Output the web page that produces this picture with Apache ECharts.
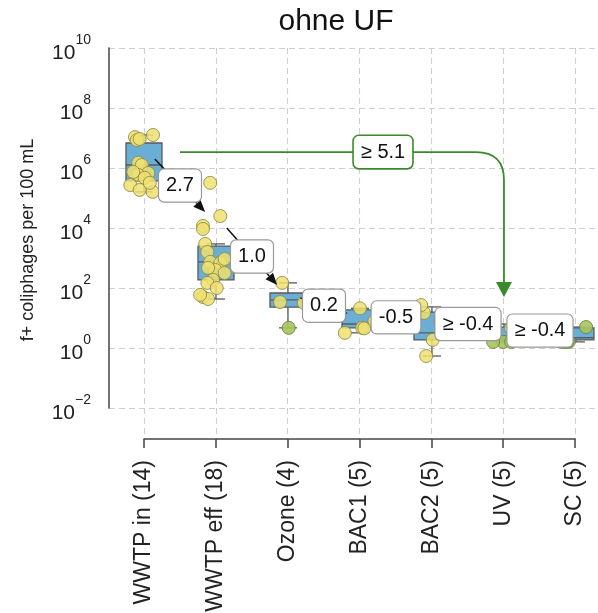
<!DOCTYPE html>
<html>
<head>
<meta charset="utf-8">
<title>ohne UF</title>
<script src="https://cdn.jsdelivr.net/npm/echarts@6/dist/echarts.min.js"></script>
<style>
  html, body { margin: 0; padding: 0; background: #fff; }
  #main { width: 598px; height: 613px; }
</style>
</head>
<body>
<div id="main"></div>
<script>
const FONT = "'Liberation Sans', Arial, sans-serif";

// treatment steps (sample count)
const categories = ['WWTP in (14)', 'WWTP eff (18)', 'Ozone (4)', 'BAC1 (5)', 'BAC2 (5)', 'UV (5)', 'SC (5)'];

// box stats per step: [min, q1, median, q3, max]
const boxStats = [
  [1.6e5, 3.7e5, 1.26e6, 6.8e6, 1.26e7],
  [43, 186, 740, 2500, 2950],
  [4.7, 23, 40, 68, 148],
  [3.2, 4.7, 6.3, 18.6, 21],
  [0.54, 1.86, 3.2, 15.8, 23.4],
  [1.6, 1.86, 2.5, 5, 6.3],
  [1.6, 1.86, 2.2, 4.7, 5.0]
];

// single samples: [jitter, value]
const ptsWwtpIn = [[-0.125, 1.07e7], [0.125, 1.26e7], [-0.1, 8.5e6], [-0.06, 9.3e6], [-0.08, 1.5e6],
  [-0.03, 1.26e6], [0.06, 6.8e5], [-0.08, 5.9e5], [0.01, 4.7e5], [-0.19, 2.7e5], [-0.06, 1.86e5],
  [0.12, 1.6e5], [0.08, 3.2e5], [-0.15, 7.4e5]];
const ptsWwtpEff = [[-0.08, 3.2e5], [0.06, 2.5e4], [-0.18, 1.17e4], [-0.18, 9.3e3], [-0.15, 2950],
  [-0.12, 1580], [-0.08, 740], [0.06, 680], [0.12, 930], [-0.01, 400], [0.12, 316], [-0.11, 470],
  [-0.04, 186], [-0.12, 148], [0.01, 100], [-0.18, 50], [-0.11, 43], [-0.22, 59]];
const ptsOzone = [[-0.08, 148], [-0.11, 34], [0.22, 32]];
const ptsBac1 = [[0.0, 21], [0.03, 4.7], [0.06, 4.5], [-0.21, 3.2], [0.2, 7.9]];
const ptsBac2 = [[-0.11, 14.8], [0.01, 1.86], [-0.08, 0.54], [-0.15, 27], [0.12, 7.9]];
const ptsUv = [[0.1, 4.5], [-0.15, 3.0]];
const ptsSc = [];
// samples at detection limit: [step, jitter, value]
const ptsLod = [[2, 0.01, 4.7], [5, -0.01, 1.6], [5, 0.1, 1.6], [5, -0.15, 1.6],
  [6, 0.14, 5.0], [6, -0.1, 1.6], [6, -0.15, 1.6], [6, -0.2, 1.6], [6, -0.12, 1.6]];

// log reductions between steps
const stepLabels = ['2.7', '1.0', '0.2', '-0.5', '≥ -0.4', '≥ -0.4'];
const stepFrom = [[0.15, 2.0e6], [1.15, 1.0e4], [2.17, 47], [3.16, 14], [4.16, 7.9], [5.16, 4.5]];
const stepTo = [[0.85, 3.4e4], [1.85, 126], [2.83, 14], [3.84, 7.9], [4.84, 5], [5.84, 3.2]];

// total reduction WWTP in -> UV
const totalLabel = '≥ 5.1';
const totalFrom = [0.5, 3.4e6];
const totalTo = [5.0, 50];
const totalLabelX = 3.32;

const stripGroups = [ptsWwtpIn, ptsWwtpEff, ptsOzone, ptsBac1, ptsBac2, ptsUv, ptsSc];
const yellowData = [];
stripGroups.forEach((g, i) => g.forEach(p => yellowData.push([i + p[0], p[1]])));
const lodData = ptsLod.map(p => [p[0] + p[1], p[2]]);
const boxData = boxStats.map((b, i) => [i].concat(b));
const stepData = stepFrom.map((f, i) => [f[0], f[1], stepTo[i][0], stepTo[i][1]]);

function renderBox(params, api) {
  const x = api.value(0);
  const yMin = api.coord([x, api.value(1)])[1];
  const yQ1 = api.coord([x, api.value(2)])[1];
  const med = api.coord([x, api.value(3)]);
  const yQ3 = api.coord([x, api.value(4)])[1];
  const yMax = api.coord([x, api.value(5)])[1];
  const cx = med[0];
  const hw = api.coord([x + 0.25, 1])[0] - cx;
  const st = { stroke: '#5a5a5a', lineWidth: 1.3 };
  return {
    type: 'group',
    children: [
      { type: 'line', shape: { x1: cx, y1: yQ3, x2: cx, y2: yMax }, style: st },
      { type: 'line', shape: { x1: cx, y1: yQ1, x2: cx, y2: yMin }, style: st },
      { type: 'line', shape: { x1: cx - hw / 2, y1: yMax, x2: cx + hw / 2, y2: yMax }, style: st },
      { type: 'line', shape: { x1: cx - hw / 2, y1: yMin, x2: cx + hw / 2, y2: yMin }, style: st },
      { type: 'rect', shape: { x: cx - hw, y: yQ3, width: 2 * hw, height: yQ1 - yQ3 },
        style: { fill: '#6aaed6', stroke: '#5a5a5a', lineWidth: 1.3 } },
      { type: 'line', shape: { x1: cx - hw, y1: med[1], x2: cx + hw, y2: med[1] }, style: st }
    ]
  };
}

function labelEl(text, x, y, border, bw) {
  return {
    type: 'text', x: x, y: y, z2: 20,
    style: {
      text: text, fill: '#111', fontSize: 20, fontFamily: FONT, lineHeight: 20,
      align: 'center', verticalAlign: 'middle',
      backgroundColor: '#fff', borderColor: border, borderWidth: bw, borderRadius: 5,
      padding: [6, 7]
    }
  };
}

function renderStep(params, api) {
  const p0 = api.coord([api.value(0), api.value(1)]);
  const p1 = api.coord([api.value(2), api.value(3)]);
  const a = Math.atan2(p1[1] - p0[1], p1[0] - p0[0]);
  const len = 12, hw = 5;
  const bx = p1[0] - len * Math.cos(a), by = p1[1] - len * Math.sin(a);
  const nx = -Math.sin(a) * hw, ny = Math.cos(a) * hw;
  return {
    type: 'group',
    children: [
      { type: 'line', shape: { x1: p0[0], y1: p0[1], x2: bx, y2: by }, style: { stroke: '#111', lineWidth: 1.5 } },
      { type: 'polygon', shape: { points: [p1, [bx + nx, by + ny], [bx - nx, by - ny]] }, style: { fill: '#111' } },
      labelEl(stepLabels[params.dataIndex], (p0[0] + p1[0]) / 2, (p0[1] + p1[1]) / 2, '#999', 1.2)
    ]
  };
}

function renderTotal(params, api) {
  const p0 = api.coord([api.value(0), api.value(1)]);
  const p1 = api.coord([api.value(2), api.value(3)]);
  const lx = api.coord([api.value(4), api.value(1)])[0];
  const r = 28, head = 15, hw = 8;
  const green = '#3a8a2c';
  const st = { stroke: green, lineWidth: 1.8, fill: null };
  return {
    type: 'group',
    children: [
      { type: 'line', shape: { x1: p0[0], y1: p0[1], x2: p1[0] - r, y2: p0[1] }, style: st },
      { type: 'bezierCurve', shape: { x1: p1[0] - r, y1: p0[1], cpx1: p1[0], cpy1: p0[1], x2: p1[0], y2: p0[1] + r }, style: st },
      { type: 'line', shape: { x1: p1[0], y1: p0[1] + r, x2: p1[0], y2: p1[1] - head }, style: st },
      { type: 'polygon', shape: { points: [p1, [p1[0] - hw, p1[1] - head], [p1[0] + hw, p1[1] - head]] }, style: { fill: green } },
      labelEl(totalLabel, lx, p0[1], green, 1.6)
    ]
  };
}

const chart = echarts.init(document.getElementById('main'));
chart.setOption({
  animation: false,
  backgroundColor: '#fff',
  title: {
    text: 'ohne UF', left: 331, top: 2, textAlign: 'center',
    textStyle: { fontSize: 30, fontWeight: 'normal', color: '#111', fontFamily: FONT }
  },
  grid: [
    { left: 109, right: 0, top: 48, bottom: 205, outerBoundsMode: 'none' },
    { left: 144, right: 23, top: 48, bottom: 174, outerBoundsMode: 'none' }
  ],
  xAxis: [
    { type: 'value', gridIndex: 0, min: -0.486, max: 6.306, show: false },
    {
      type: 'value', gridIndex: 1, min: 0, max: 6, interval: 1,
      axisLine: { show: true, onZero: false, lineStyle: { color: '#444', width: 1.5 } },
      axisTick: { show: true, length: 9, lineStyle: { color: '#444', width: 1.5 } },
      splitLine: { show: true, lineStyle: { color: '#cfcfcf', type: [6, 4], width: 1.1 } },
      axisLabel: {
        rotate: 90, margin: 21, fontSize: 23, color: '#222', fontFamily: FONT,
        showMinLabel: true, showMaxLabel: true,
        formatter: v => categories[v] || ''
      }
    }
  ],
  yAxis: [
    {
      type: 'log', gridIndex: 0, logBase: 10, min: 1e-2, max: 1e10, interval: 2,
      name: 'f+ coliphages per 100 mL', nameLocation: 'middle', nameGap: 72,
      nameTextStyle: { fontSize: 18, color: '#222', fontFamily: FONT, padding: [0, 24, 0, 0] },
      axisLine: { show: true, onZero: false, lineStyle: { color: '#444', width: 1.5 } },
      axisTick: { show: false },
      splitLine: { show: true, lineStyle: { color: '#cfcfcf', type: [6, 4], width: 1.1 } },
      axisLabel: {
        margin: 18,
        formatter: v => {
          const e = Math.round(Math.log10(v));
          return '{b|10}{e|' + (e < 0 ? '\u2212' + (-e) : e) + '}';
        },
        rich: {
          b: { fontSize: 21, lineHeight: 21, padding: [10, 0, 0, 0], color: '#222', fontFamily: FONT },
          e: { fontSize: 14, lineHeight: 14, padding: [0, 0, 16, 0], color: '#222', fontFamily: FONT }
        }
      }
    },
    { type: 'value', gridIndex: 1, min: 0, max: 1, show: false }
  ],
  series: [
    {
      type: 'custom', name: 'box', xAxisIndex: 0, yAxisIndex: 0, z: 2,
      renderItem: renderBox, data: boxData, encode: { x: 0, y: [1, 2, 3, 4, 5] }
    },
    {
      type: 'scatter', name: 'samples', xAxisIndex: 0, yAxisIndex: 0, z: 3,
      symbolSize: 13, data: yellowData,
      itemStyle: { color: '#efe170', borderColor: '#8e8a45', borderWidth: 1, opacity: 0.85 }
    },
    {
      type: 'scatter', name: 'LOD', xAxisIndex: 0, yAxisIndex: 0, z: 3,
      symbolSize: 13, data: lodData,
      itemStyle: { color: '#a9c45c', borderColor: '#6a8540', borderWidth: 1, opacity: 0.9 }
    },
    {
      type: 'custom', name: 'steps', xAxisIndex: 0, yAxisIndex: 0, z: 5,
      renderItem: renderStep, data: stepData, encode: { x: 0, y: 1 }
    },
    {
      type: 'custom', name: 'total', xAxisIndex: 0, yAxisIndex: 0, z: 4,
      renderItem: renderTotal,
      data: [[totalFrom[0], totalFrom[1], totalTo[0], totalTo[1], totalLabelX]],
      encode: { x: 0, y: 1 }
    }
  ]
});
</script>
</body>
</html>
